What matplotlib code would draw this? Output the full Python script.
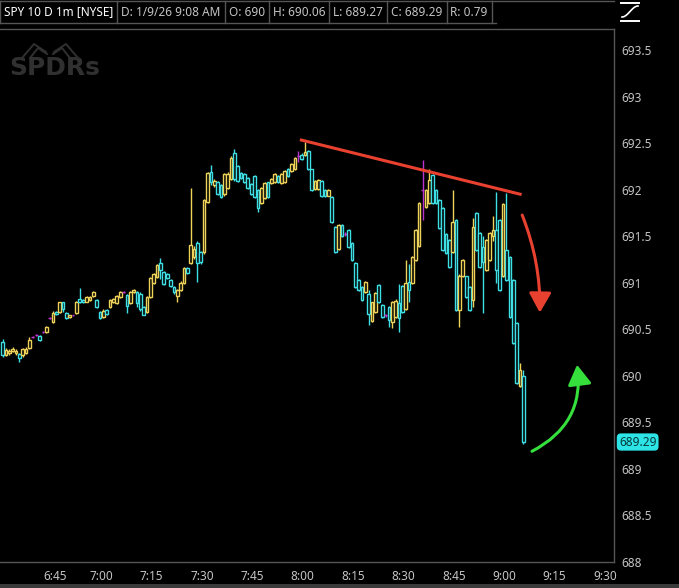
import numpy as np
import pandas as pd
import matplotlib
matplotlib.use("Agg")
import matplotlib.pyplot as plt
import matplotlib.dates as mdates
import matplotlib.transforms as mtransforms
from matplotlib.patches import FancyArrowPatch, Rectangle
from matplotlib.lines import Line2D

# SPY 1 minute candles, 6:33 -> 9:08
opens = [
    690.37, 690.23, 690.25, 690.27, 690.25, 690.24, 690.22, 690.25, 690.30, 690.42,
    690.44, 690.43, 690.47, 690.47, 690.62, 690.58, 690.69, 690.69, 690.79, 690.68,
    690.63, 690.65, 690.68, 690.83, 690.82, 690.80, 690.82, 690.86, 690.82, 690.69,
    690.63, 690.71, 690.74, 690.79, 690.78, 690.85, 690.90, 690.87, 690.78, 690.90,
    690.90, 690.88, 690.74, 690.69, 690.85, 691.00, 691.06, 691.21, 691.12, 691.10,
    691.03, 690.96, 690.86, 690.92, 691.00, 691.16, 691.21, 691.28, 691.43, 691.33,
    691.33, 691.87, 692.19, 692.05, 692.09, 692.05, 691.96, 692.02, 692.12, 692.40,
    692.26, 692.18, 692.17, 692.13, 692.06, 692.15, 692.00, 691.86, 691.91, 692.08,
    692.07, 692.08, 692.15, 692.07, 692.08, 692.23, 692.20, 692.22, 692.36, 692.38,
    692.38, 692.42, 692.22, 692.01, 692.01, 692.10, 692.00, 691.94, 691.92, 691.60,
    691.37, 691.62, 691.53, 691.57, 691.43, 691.21, 691.03, 690.96, 690.90, 690.88,
    690.59, 690.69, 690.98, 690.76, 690.65, 690.74, 690.58, 690.63, 690.78, 690.97,
    690.72, 691.01, 691.00, 691.25, 691.40, 692.00, 691.82, 691.86, 692.16, 692.00,
    691.89, 691.81, 691.53, 691.46, 691.33, 691.68, 690.71, 691.07, 691.07, 690.96,
    690.82, 691.75, 691.54, 691.39, 691.14, 691.25, 691.50, 691.57, 691.68, 691.07,
    691.35, 691.28, 691.03, 690.57, 689.89, 690.00,
]
highs = [
    690.40, 690.30, 690.29, 690.31, 690.29, 690.25, 690.30, 690.31, 690.42, 690.43,
    690.45, 690.44, 690.48, 690.54, 690.63, 690.70, 690.70, 690.80, 690.80, 690.69,
    690.66, 690.66, 690.81, 690.95, 690.83, 690.86, 690.86, 690.91, 690.83, 690.70,
    690.72, 690.72, 690.83, 690.84, 690.87, 690.91, 690.91, 690.88, 690.91, 690.93,
    690.91, 690.90, 690.75, 690.86, 691.06, 691.11, 691.20, 691.27, 691.13, 691.11,
    691.04, 690.97, 690.93, 691.02, 691.17, 691.17, 692.02, 691.40, 691.45, 691.34,
    691.90, 692.19, 692.27, 692.12, 692.10, 692.06, 692.18, 692.19, 692.36, 692.44,
    692.27, 692.19, 692.18, 692.14, 692.07, 692.16, 692.01, 692.03, 692.08, 692.09,
    692.13, 692.18, 692.16, 692.18, 692.21, 692.24, 692.29, 692.35, 692.42, 692.40,
    692.52, 692.43, 692.23, 692.11, 692.12, 692.11, 692.01, 692.01, 691.93, 691.61,
    691.63, 691.63, 691.55, 691.58, 691.44, 691.22, 691.04, 690.97, 691.02, 690.92,
    690.80, 690.90, 690.99, 690.77, 690.67, 690.75, 690.81, 690.83, 690.99, 690.98,
    691.25, 691.20, 691.29, 691.58, 691.87, 692.32, 692.01, 692.22, 692.17, 692.01,
    691.90, 691.82, 691.54, 691.47, 692.00, 691.69, 691.10, 691.26, 691.08, 690.97,
    691.70, 691.76, 691.55, 691.50, 691.47, 691.55, 691.72, 691.98, 691.69, 691.86,
    691.97, 691.29, 691.04, 690.58, 690.14, 690.06,
]
lows = [
    690.20, 690.21, 690.23, 690.26, 690.22, 690.15, 690.20, 690.24, 690.29, 690.41,
    690.43, 690.38, 690.46, 690.46, 690.61, 690.57, 690.66, 690.68, 690.69, 690.61,
    690.62, 690.64, 690.67, 690.78, 690.78, 690.79, 690.81, 690.85, 690.73, 690.61,
    690.62, 690.66, 690.73, 690.78, 690.77, 690.84, 690.89, 690.68, 690.77, 690.89,
    690.74, 690.70, 690.65, 690.68, 690.84, 690.99, 691.05, 691.04, 690.98, 691.04,
    690.96, 690.88, 690.80, 690.91, 690.99, 691.10, 691.20, 691.26, 691.01, 691.20,
    691.31, 691.86, 692.05, 692.03, 691.95, 691.91, 691.94, 692.01, 692.11, 692.10,
    692.09, 692.12, 692.07, 692.01, 691.95, 691.91, 691.76, 691.85, 691.90, 691.91,
    692.06, 692.07, 692.07, 692.06, 692.07, 692.14, 692.19, 692.21, 692.30, 692.32,
    692.36, 692.21, 691.99, 692.00, 692.00, 691.92, 691.92, 691.93, 691.64, 691.32,
    691.35, 691.49, 691.51, 691.38, 691.24, 690.95, 690.91, 690.81, 690.89, 690.55,
    690.58, 690.68, 690.78, 690.62, 690.63, 690.53, 690.52, 690.62, 690.47, 690.68,
    690.71, 690.80, 690.99, 691.24, 691.39, 691.68, 691.81, 691.85, 691.85, 691.85,
    691.58, 691.34, 691.31, 691.16, 691.32, 690.70, 690.53, 691.06, 690.84, 690.70,
    690.74, 691.34, 691.16, 690.68, 691.13, 691.24, 691.45, 691.00, 690.91, 691.06,
    691.02, 690.62, 690.34, 689.91, 689.88, 689.27,
]
closes = [
    690.22, 690.28, 690.27, 690.29, 690.27, 690.19, 690.29, 690.29, 690.39, 690.42,
    690.44, 690.39, 690.47, 690.53, 690.62, 690.68, 690.67, 690.79, 690.72, 690.62,
    690.65, 690.65, 690.80, 690.79, 690.79, 690.85, 690.85, 690.90, 690.74, 690.62,
    690.70, 690.67, 690.82, 690.83, 690.86, 690.90, 690.90, 690.75, 690.90, 690.92,
    690.78, 690.72, 690.66, 690.85, 691.05, 691.10, 691.19, 691.14, 690.99, 691.05,
    690.97, 690.90, 690.92, 691.00, 691.16, 691.11, 691.41, 691.37, 691.21, 691.22,
    691.89, 692.18, 692.08, 692.10, 691.96, 691.92, 692.17, 692.17, 692.34, 692.12,
    692.10, 692.13, 692.08, 692.02, 691.96, 691.92, 691.81, 692.02, 692.07, 691.92,
    692.12, 692.17, 692.08, 692.17, 692.20, 692.15, 692.28, 692.34, 692.36, 692.33,
    692.41, 692.22, 692.00, 692.10, 692.11, 691.93, 691.93, 692.00, 691.65, 691.33,
    691.62, 691.50, 691.53, 691.39, 691.25, 690.96, 690.92, 690.82, 691.01, 690.67,
    690.79, 690.89, 690.79, 690.63, 690.65, 690.60, 690.80, 690.81, 690.62, 690.69,
    691.00, 690.92, 691.28, 691.57, 691.86, 692.00, 692.00, 692.11, 691.86, 691.86,
    691.59, 691.35, 691.32, 691.17, 691.65, 690.71, 691.07, 691.25, 690.85, 690.71,
    691.60, 691.35, 691.17, 691.22, 691.46, 691.54, 691.57, 691.14, 690.92, 691.85,
    691.03, 690.63, 690.35, 689.92, 690.06, 689.29,
]
first_bar = "2026-01-09 06:33"
last_price = 689.29

ytick_values = [688, 688.5, 689, 689.5, 690, 690.5, 691, 691.5, 692, 692.5, 693, 693.5]
ytick_labels = ["688", "688.5", "689", "689.5", "690", "690.5", "691", "691.5",
                "692", "692.5", "693", "693.5"]
xtick_labels = ["6:45", "7:00", "7:15", "7:30", "7:45", "8:00", "8:15", "8:30",
                "8:45", "9:00", "9:15", "9:30"]

header = ["SPY 10 D 1m [NYSE]", "D: 1/9/26 9:08 AM", "O: 690", "H: 690.06",
          "L: 689.27", "C: 689.29", "R: 0.79"]

# drawings on the chart
trend_times = ["2026-01-09 08:01:30", "2026-01-09 09:07:30"]
trend_prices = [692.54, 691.95]
red_arrow_times = ["2026-01-09 09:07:40", "2026-01-09 09:12:55"]
red_arrow_prices = [691.73, 690.68]
green_arrow_times = ["2026-01-09 09:10:35", "2026-01-09 09:24:00"]
green_arrow_prices = [689.19, 690.12]

UP = "#efd25a"
DOWN = "#3fdfe6"
FLAT = "#bd33d0"
RED = "#e8412f"
GREEN = "#35e03c"
TXT = "#c4c4c4"
EDGE = "#555555"

W, H = 679, 588
fig = plt.figure(figsize=(W / 100, H / 100), dpi=100, facecolor="black")
ax = fig.add_axes([0, 1 - 562 / H, 614 / W, (562 - 29) / H])
ax.set_facecolor("black")

times = pd.date_range(first_bar, periods=len(closes), freq="1min")
x = mdates.date2num(times)
o = np.array(opens)
c = np.array(closes)
colors = [UP if cc > oo else DOWN if cc < oo else FLAT for oo, cc in zip(o, c)]

ax.vlines(x, lows, highs, colors=colors, linewidth=1.0, zorder=2)
ax.bar(x, c - o, bottom=o, width=0.8 / 1440, facecolor="black",
       edgecolor=colors, linewidth=1.0, zorder=3)

tt = mdates.date2num(pd.to_datetime(trend_times))
ax.plot(tt, trend_prices, color=RED, lw=2.2, solid_capstyle="butt", zorder=5)

ra = mdates.date2num(pd.to_datetime(red_arrow_times))
ax.add_patch(FancyArrowPatch((ra[0], red_arrow_prices[0]), (ra[1], red_arrow_prices[1]),
                             connectionstyle="arc3,rad=-0.1",
                             arrowstyle="-|>,head_length=0.5,head_width=0.28",
                             mutation_scale=24, color=RED, lw=2.2,
                             shrinkA=0, shrinkB=0, zorder=5))
ga = mdates.date2num(pd.to_datetime(green_arrow_times))
ax.add_patch(FancyArrowPatch((ga[0], green_arrow_prices[0]), (ga[1], green_arrow_prices[1]),
                             connectionstyle="arc3,rad=0.35",
                             arrowstyle="-|>,head_length=0.5,head_width=0.3",
                             mutation_scale=24, color=GREEN, lw=2.2,
                             shrinkA=0, shrinkB=0, zorder=5))

ax.set_xlim(mdates.date2num(pd.Timestamp("2026-01-09 06:32:14")),
            mdates.date2num(pd.Timestamp("2026-01-09 09:35:00")))
ax.set_ylim(688.0, 693.73)

ax.yaxis.tick_right()
ax.set_yticks(ytick_values)
ax.set_yticklabels(ytick_labels)
xt = mdates.date2num(pd.date_range("2026-01-09 06:45", periods=len(xtick_labels), freq="15min"))
ax.set_xticks(xt)
ax.set_xticklabels(xtick_labels, ha="left")
ax.tick_params(axis="both", length=0, labelcolor=TXT, labelsize=8.5)
ax.tick_params(axis="y", pad=5)
ax.tick_params(axis="x", pad=6)
shift = mtransforms.ScaledTranslation(-4 / 100, 0, fig.dpi_scale_trans)
for lab in ax.get_xticklabels():
    lab.set_fontfamily("Noto Sans")
    if lab.get_text() != "6:45":
        lab.set_transform(lab.get_transform() + shift)
for lab in ax.get_yticklabels():
    lab.set_fontfamily("Noto Sans")

ax.spines["left"].set_visible(False)
for s in ["top", "right", "bottom"]:
    ax.spines[s].set_color(EDGE)
    ax.spines[s].set_linewidth(1)

# last price tag
blend = mtransforms.blended_transform_factory(ax.transAxes, ax.transData)
ax.text(1.008, last_price, f"{last_price:.2f}", transform=blend, ha="left", va="center",
        color="#06393b", fontsize=8.5, family="Noto Sans", clip_on=False, zorder=6,
        bbox=dict(boxstyle="round,pad=0.18,rounding_size=0.35", fc="#2de4e6", ec="none"))

# watermark
fig.text(9 / W, 1 - 68 / H, "SPDRs", fontsize=18, weight="heavy", color="#303030",
         va="center", ha="left", family="DejaVu Sans")
for pts in [[(22, 58), (34, 44), (46, 52)], [(54, 52), (66, 44), (78, 58)],
            [(30, 58), (38, 48), (47, 54)], [(53, 54), (62, 48), (70, 58)]]:
    fig.add_artist(Line2D([p[0] / W for p in pts], [1 - p[1] / H for p in pts],
                          color="#303030", lw=1.4))

# header boxes
renderer = fig.canvas.get_renderer()
cx = 4
fig.add_artist(Line2D([0, 0], [1 - 23 / H, 1 - 1 / H], color=EDGE, lw=1))
for k, s in enumerate(header):
    t = fig.text(cx / W, 1 - 12 / H, s, ha="left", va="center",
                 color="white" if k == 0 else TXT, fontsize=8.5, family="Noto Sans",
                 weight="bold" if k == 0 else "normal")
    bb = t.get_window_extent(renderer)
    cx = cx + bb.width + 4
    fig.add_artist(Line2D([cx / W, cx / W], [1 - 23 / H, 1 - 1 / H], color=EDGE, lw=1))
    cx += 4
fig.add_artist(Line2D([0, 614 / W], [1 - 1 / H, 1 - 1 / H], color=EDGE, lw=1))
fig.add_artist(Line2D([0, cx / W], [1 - 23 / H, 1 - 23 / H], color=EDGE, lw=1))

# small icon at top right
fig.add_artist(Line2D([621 / W, 639 / W], [1 - 3 / H, 1 - 3 / H], color="white", lw=1.4))
fig.add_artist(Line2D([621 / W, 639 / W], [1 - 21 / H, 1 - 21 / H], color="white", lw=1.4))
u = np.linspace(0, 1, 30)
fig.add_artist(Line2D((622 + 16 * u) / W, 1 - (17 - 11 * (0.5 - 0.5 * np.cos(np.pi * u))) / H,
                      color="white", lw=1.2))

# bottom strip
fig.add_artist(Rectangle((0, 0), 1, 4 / H, transform=fig.transFigure,
                         facecolor="#3a3a3a", edgecolor="none"))

fig.savefig("out.png", dpi=100, facecolor="black")
